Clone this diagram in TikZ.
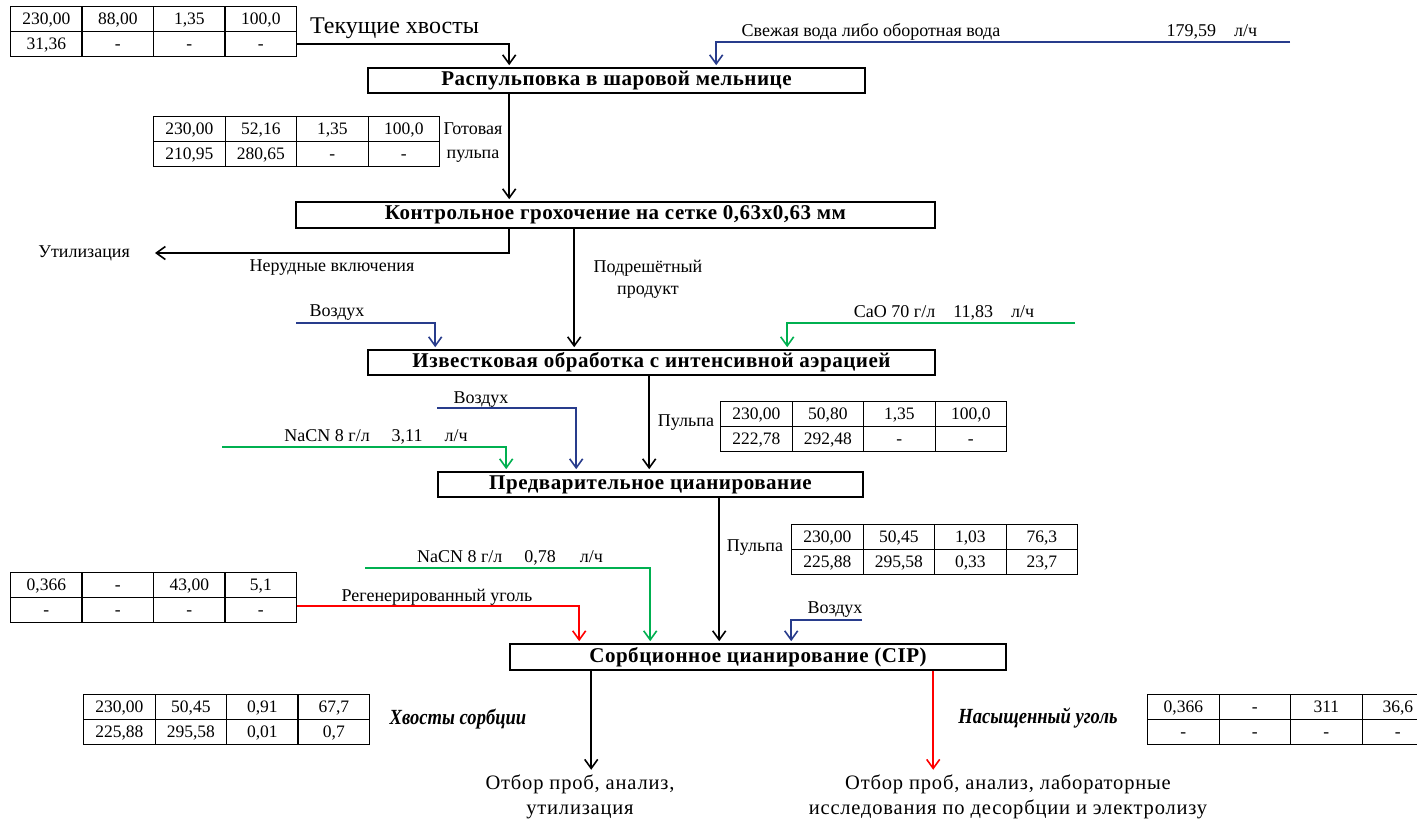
\documentclass[tikz,border=0pt]{standalone}
\usepackage{fontspec}
\setmainfont{Liberation Serif}
\newfontfamily\condfont[FakeStretch=0.86]{Liberation Serif}
\newfontfamily\boxfont[LetterSpace=2.5]{Liberation Serif}
\newfontfamily\outfont[LetterSpace=4]{Liberation Serif}
\usetikzlibrary{arrows.meta,calc,matrix}
\definecolor{flowblue}{RGB}{40,60,140}
\definecolor{flowgreen}{RGB}{0,176,80}
\definecolor{flowred}{RGB}{255,0,0}
\tikzset{
  every node/.style={inner sep=0pt},
  box/.style={draw, line width=1.6pt, minimum height=25pt, font=\boxfont\fontsize{21}{23}\selectfont\bfseries},
  flow/.style={line width=1.6pt, -{Straight Barb[length=9pt,width=13pt,line width=1.6pt]}, shorten >=2pt},
  bflow/.style={flow, line width=2pt, draw=flowblue},
  gflow/.style={flow, line width=2pt, draw=flowgreen},
  rflow/.style={flow, line width=2pt, draw=flowred},
  lab/.style={font=\fontsize{18}{23}\selectfont},
  outtext/.style={font=\outfont\fontsize{20.5}{25}\selectfont, align=center},
  ital/.style={font=\condfont\fontsize{21.6}{23}\selectfont\bfseries\itshape},
  dtab/.style={matrix of nodes, anchor=north west, inner sep=0pt, outer sep=0pt,
    column sep=-1.2pt, row sep=-1.2pt,
    nodes={draw, line width=1.2pt, minimum width=71.5pt, minimum height=25pt,
      text height=12pt, text depth=0.5pt,
      inner sep=0pt, outer sep=0pt, anchor=center, font=\fontsize{17.5}{19}\selectfont}},
}
\begin{document}
\begin{tikzpicture}[x=1pt,y=-1pt]
\useasboundingbox (0,0) rectangle (1417,825);
\clip (0,0) rectangle (1417,825);

% ---- tables
\matrix[dtab] (t1) at (10,6) {230,00 & 88,00 & 1,35 & 100,0\\ 31,36 & - & - & -\\};
\matrix[dtab] (t2) at (153,116) {230,00 & 52,16 & 1,35 & 100,0\\ 210,95 & 280,65 & - & -\\};
\matrix[dtab] (t3) at (720,401) {230,00 & 50,80 & 1,35 & 100,0\\ 222,78 & 292,48 & - & -\\};
\matrix[dtab] (t4) at (791,524) {230,00 & 50,45 & 1,03 & 76,3\\ 225,88 & 295,58 & 0,33 & 23,7\\};
\matrix[dtab] (t5) at (10,572) {0,366 & - & 43,00 & 5,1\\ - & - & - & -\\};
\matrix[dtab] (t6) at (83,694) {230,00 & 50,45 & 0,91 & 67,7\\ 225,88 & 295,58 & 0,01 & 0,7\\};
\matrix[dtab] (t7) at (1147,694) {0,366 & - & 311 & 36,6\\ - & - & - & -\\};

% ---- process boxes
\node[box, minimum width=497pt] (b1) at (616.5,80.5) {Распульповка в шаровой мельнице};
\node[box, minimum width=639pt, minimum height=26pt] (b2) at (615.5,215) {Контрольное грохочение на сетке 0,63х0,63 мм};
\node[box, minimum width=567pt] (b3) at (651.5,362.5) {Известковая обработка с интенсивной аэрацией};
\node[box, minimum width=425pt] (b4) at (650.5,484.5) {Предварительное цианирование};
\node[box, minimum width=496pt, minimum height=26pt] (b5) at (758,657) {Сорбционное цианирование (CIP)};

% ---- labels
\node[font=\fontsize{24}{26}\selectfont, anchor=west] (tail) at (310,28) {Текущие хвосты};
\node[lab] (wlab) at (871,32) {Свежая вода либо оборотная вода};
\node[lab] (wval) at (1212,32) {179,59\quad л/ч};
\node[lab, align=center, font=\fontsize{18}{24}\selectfont] (t2lab) at (473,143) {Готовая\\пульпа};
\node[lab, anchor=east] (util) at (130,253) {Утилизация};
\node[lab] (nerud) at (332,268) {Нерудные включения};
\node[lab, align=center, font=\fontsize{18}{22}\selectfont] (podr) at (648,279) {Подрешётный\\продукт};
\node[lab] (air1) at (337,313) {Воздух};
\node[lab] (cao) at (944,313) {CaO 70 г/л\quad 11,83\quad л/ч};
\node[lab] (pulp1) at (686,423) {Пульпа};
\node[lab] (air2) at (481,400) {Воздух};
\node[lab] (nacn1) at (376,437) {NaCN 8 г/л\hspace{22pt}3,11\hspace{22pt}л/ч};
\node[lab] (pulp2) at (755,548) {Пульпа};
\node[lab] (nacn2) at (510,558) {NaCN 8 г/л\hspace{22pt}0,78\hspace{24pt}л/ч};
\node[lab] (regen) at (437,597) {Регенерированный уголь};
\node[lab] (air3) at (835,610) {Воздух};
\node[ital] (tails) at (458,719) {Хвосты сорбции};
\node[ital] (sat) at (1038,718) {Насыщенный уголь};
\node[outtext] (o1) at (580,797) {Отбор проб, анализ,\\утилизация};
\node[outtext] (o2) at (1008,797) {Отбор проб, анализ, лабораторные\\исследования по десорбции и электролизу};

% ---- free ends
\coordinate (w1) at (1290,42);
\coordinate (a1) at (296,323);
\coordinate (c1) at (1075,323);
\coordinate (a2) at (437,408);
\coordinate (n1) at (222,447);
\coordinate (n2) at (365,568);
\coordinate (a3) at (862,620);

% ---- connectors
\draw[flow] (t1-2-4.east) -| ($(b1.north west)+(142,0)$);
\draw[bflow] (w1) -| ($(b1.north west)+(349,0)$);
\draw[flow] ($(b1.south west)+(142,0)$) coordinate (p1) -- (p1 |- b2.north);
\draw[flow, shorten >=25pt] ($(b2.south west)+(214,0)$) |- (util.east);
\draw[flow] ($(b2.south west)+(279,0)$) coordinate (p2) -- (p2 |- b3.north);
\draw[bflow] (a1) -| ($(b3.north west)+(68,0)$);
\draw[gflow] (c1) -| ($(b3.north west)+(420,0)$);
\draw[flow] ($(b3.south west)+(282,0)$) coordinate (p3) -- (p3 |- b4.north);
\draw[bflow] (a2) -| ($(b4.north west)+(139,0)$);
\draw[gflow] (n1) -| ($(b4.north west)+(69,0)$);
\draw[flow] ($(b4.south west)+(282,0)$) coordinate (p4) -- (p4 |- b5.north);
\draw[gflow] (n2) -| ($(b5.north west)+(141,0)$);
\draw[rflow] ($(t5-2-4.east)+(0,-4)$) -| ($(b5.north west)+(70,0)$);
\draw[bflow] (a3) -| ($(b5.north west)+(282,0)$);
\draw[flow, shorten >=5pt] ($(b5.south west)+(82,0)$) coordinate (p5) -- (p5 |- o1.north);
\draw[rflow, shorten >=5pt] ($(b5.south west)+(424,0)$) coordinate (p6) -- (p6 |- o2.north);
\end{tikzpicture}
\end{document}
